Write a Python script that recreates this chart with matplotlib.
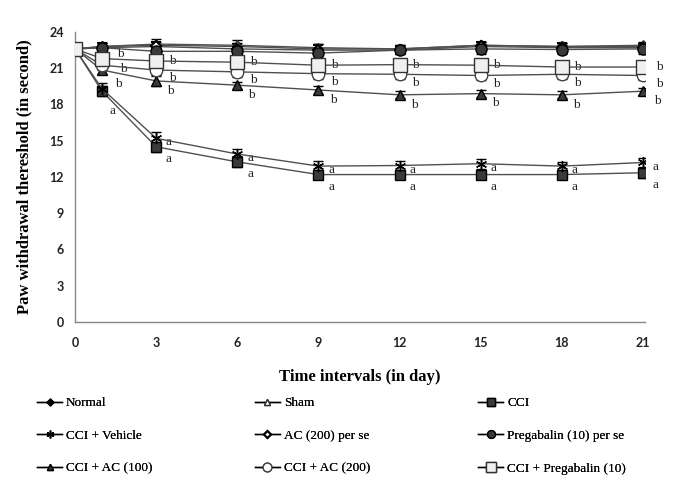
import numpy as np
import matplotlib
matplotlib.use('Agg')
import matplotlib.pyplot as plt
from matplotlib.lines import Line2D

days = [0, 1, 3, 6, 9, 12, 15, 18, 21]
xticks = [0, 3, 6, 9, 12, 15, 18, 21]
yticks = [0, 3, 6, 9, 12, 15, 18, 21, 24]

normal = [22.6, 22.8, 22.9, 22.8, 22.6, 22.6, 22.9, 22.8, 22.8]
sham = [22.6, 22.8, 23.0, 22.9, 22.7, 22.6, 22.9, 22.8, 22.9]
cci = [22.6, 19.1, 14.5, 13.25, 12.2, 12.2, 12.2, 12.2, 12.35]
cci_vehicle = [22.6, 19.3, 15.2, 13.9, 12.9, 12.95, 13.1, 12.9, 13.2]
ac200_perse = [22.6, 22.7, 22.8, 22.6, 22.5, 22.5, 22.8, 22.7, 22.7]
preg_perse = [22.6, 22.7, 22.4, 22.4, 22.25, 22.5, 22.6, 22.55, 22.6]
cci_ac100 = [22.6, 20.85, 19.95, 19.6, 19.2, 18.8, 18.9, 18.8, 19.1]
cci_ac200 = [22.6, 21.25, 20.85, 20.7, 20.55, 20.5, 20.4, 20.5, 20.4]
cci_preg = [22.6, 21.8, 21.6, 21.5, 21.25, 21.3, 21.25, 21.1, 21.1]

# SEM
err_normal = [0.3, 0.3, 0.3, 0.3, 0.4, 0.3, 0.3, 0.3, 0.3]
err_sham = [0.4, 0.3, 0.4, 0.4, 0.3, 0.3, 0.3, 0.3, 0.3]
err_cci = [0.4, 0.4, 0.4, 0.4, 0.4, 0.3, 0.3, 0.3, 0.4]
err_vehicle = [0.4, 0.5, 0.5, 0.4, 0.4, 0.4, 0.4, 0.3, 0.4]
err_ac200ps = [0.3, 0.4, 0.4, 0.4, 0.4, 0.3, 0.4, 0.4, 0.3]
err_pregps = [0.3, 0.4, 0.4, 0.4, 0.4, 0.3, 0.4, 0.4, 0.4]
err_ac100 = [0.3, 0.3, 0.4, 0.3, 0.3, 0.3, 0.3, 0.3, 0.3]
err_ac200 = [0.3, 0.4, 0.4, 0.4, 0.4, 0.4, 0.4, 0.4, 0.4]
err_preg = [0.3, 0.4, 0.4, 0.4, 0.4, 0.4, 0.4, 0.4, 0.4]

labels = ['Normal', 'Sham', 'CCI',
          'CCI + Vehicle', 'AC (200) per se', 'Pregabalin (10) per se',
          'CCI + AC (100)', 'CCI + AC (200)', 'CCI + Pregabalin (10)']

line_col = '#505050'
dark = '#3a3a3a'

series = [
    (normal, err_normal, dict(marker='D', ms=5, mfc='black', mec='black')),
    (sham, err_sham, dict(marker='^', ms=7, mfc='white', mec='#333333')),
    (cci, err_cci, dict(marker='s', ms=7.5, mfc=dark, mec='black')),
    (cci_vehicle, err_vehicle, dict(marker=(6, 2, 0), ms=8, mfc='black', mec='black')),
    (ac200_perse, err_ac200ps, dict(marker='D', ms=5, mfc='white', mec='black', mew=1.5)),
    (preg_perse, err_pregps, dict(marker='o', ms=8, mfc=dark, mec='black')),
    (cci_ac100, err_ac100, dict(marker='^', ms=7, mfc=dark, mec='black')),
    (cci_ac200, err_ac200, dict(marker='o', ms=9, mfc='white', mec='#444444')),
    (cci_preg, err_preg, dict(marker='s', ms=9.5, mfc='#f0f0f0', mec='#333333')),
]

fig = plt.figure(figsize=(6.85, 4.9), dpi=100)
ax = fig.add_axes([0.1095, 0.3429, 0.832, 0.5918])

handles = []
for (vals, err, style), lab in zip(series, labels):
    ax.errorbar(days, vals, yerr=err, color=line_col, lw=1.0, elinewidth=1.0,
                capsize=3.5, ecolor='black', zorder=3, **style)
    small = dict(style)
    small['ms'] = style['ms'] * 0.7
    handles.append(Line2D([], [], color='black', lw=1.0, **small))

# significance letters; day 1 has its own offsets (crowded)
def letters(vals, letter, dx, dy, day1=None):
    for d, v in zip(days[1:], vals[1:]):
        off = (dx, dy)
        if d == 1:
            if day1 is None:
                continue
            off = day1
        ax.annotate(letter, xy=(d, v), xytext=off, textcoords='offset points',
                    ha='left', va='center', fontsize=9.5, family='Liberation Serif',
                    color='#222222')

letters(cci, 'a', 7, -9, day1=(5, -14))
letters(cci_vehicle, 'a', 7, -3)
letters(cci_ac100, 'b', 8, -7, day1=(9, -10))
letters(cci_ac200, 'b', 9, -6, day1=(13, -3))
letters(cci_preg, 'b', 9, 0, day1=(11, 3))

ax.set_xlim(0, 21.07)
ax.set_ylim(0, 24)
ax.set_xticks(xticks)
ax.set_yticks(yticks)
ax.tick_params(length=0)
ax.tick_params(axis='y', pad=8)
ax.tick_params(axis='x', pad=11)
for t in ax.get_xticklabels() + ax.get_yticklabels():
    t.set_fontfamily('Lato')
    t.set_fontweight('bold')
    t.set_fontsize(9)
    t.set_color('#222222')
for s in ['top', 'right']:
    ax.spines[s].set_visible(False)
for s in ['left', 'bottom']:
    ax.spines[s].set_color('#888888')
    ax.spines[s].set_linewidth(1.0)

ax.set_xlabel('Time intervals (in day)', family='Liberation Serif', fontweight='bold',
              fontsize=12, labelpad=14)
ax.set_ylabel('Paw withdrawal thereshold (in second)', family='Liberation Serif',
              fontweight='bold', fontsize=12, labelpad=12)

col_x = [0.054, 0.372, 0.698]
for i in range(3):
    leg = fig.legend([handles[i], handles[i + 3], handles[i + 6]],
                     [labels[i], labels[i + 3], labels[i + 6]],
                     loc='upper left', bbox_to_anchor=(col_x[i], 0.19),
                     frameon=False, borderpad=0, borderaxespad=0, handlelength=1.9,
                     handletextpad=0.3, labelspacing=1.55,
                     prop={'family': 'Liberation Serif', 'size': 9.5})
    fig.add_artist(leg)

fig.savefig('out.png', dpi=100)
